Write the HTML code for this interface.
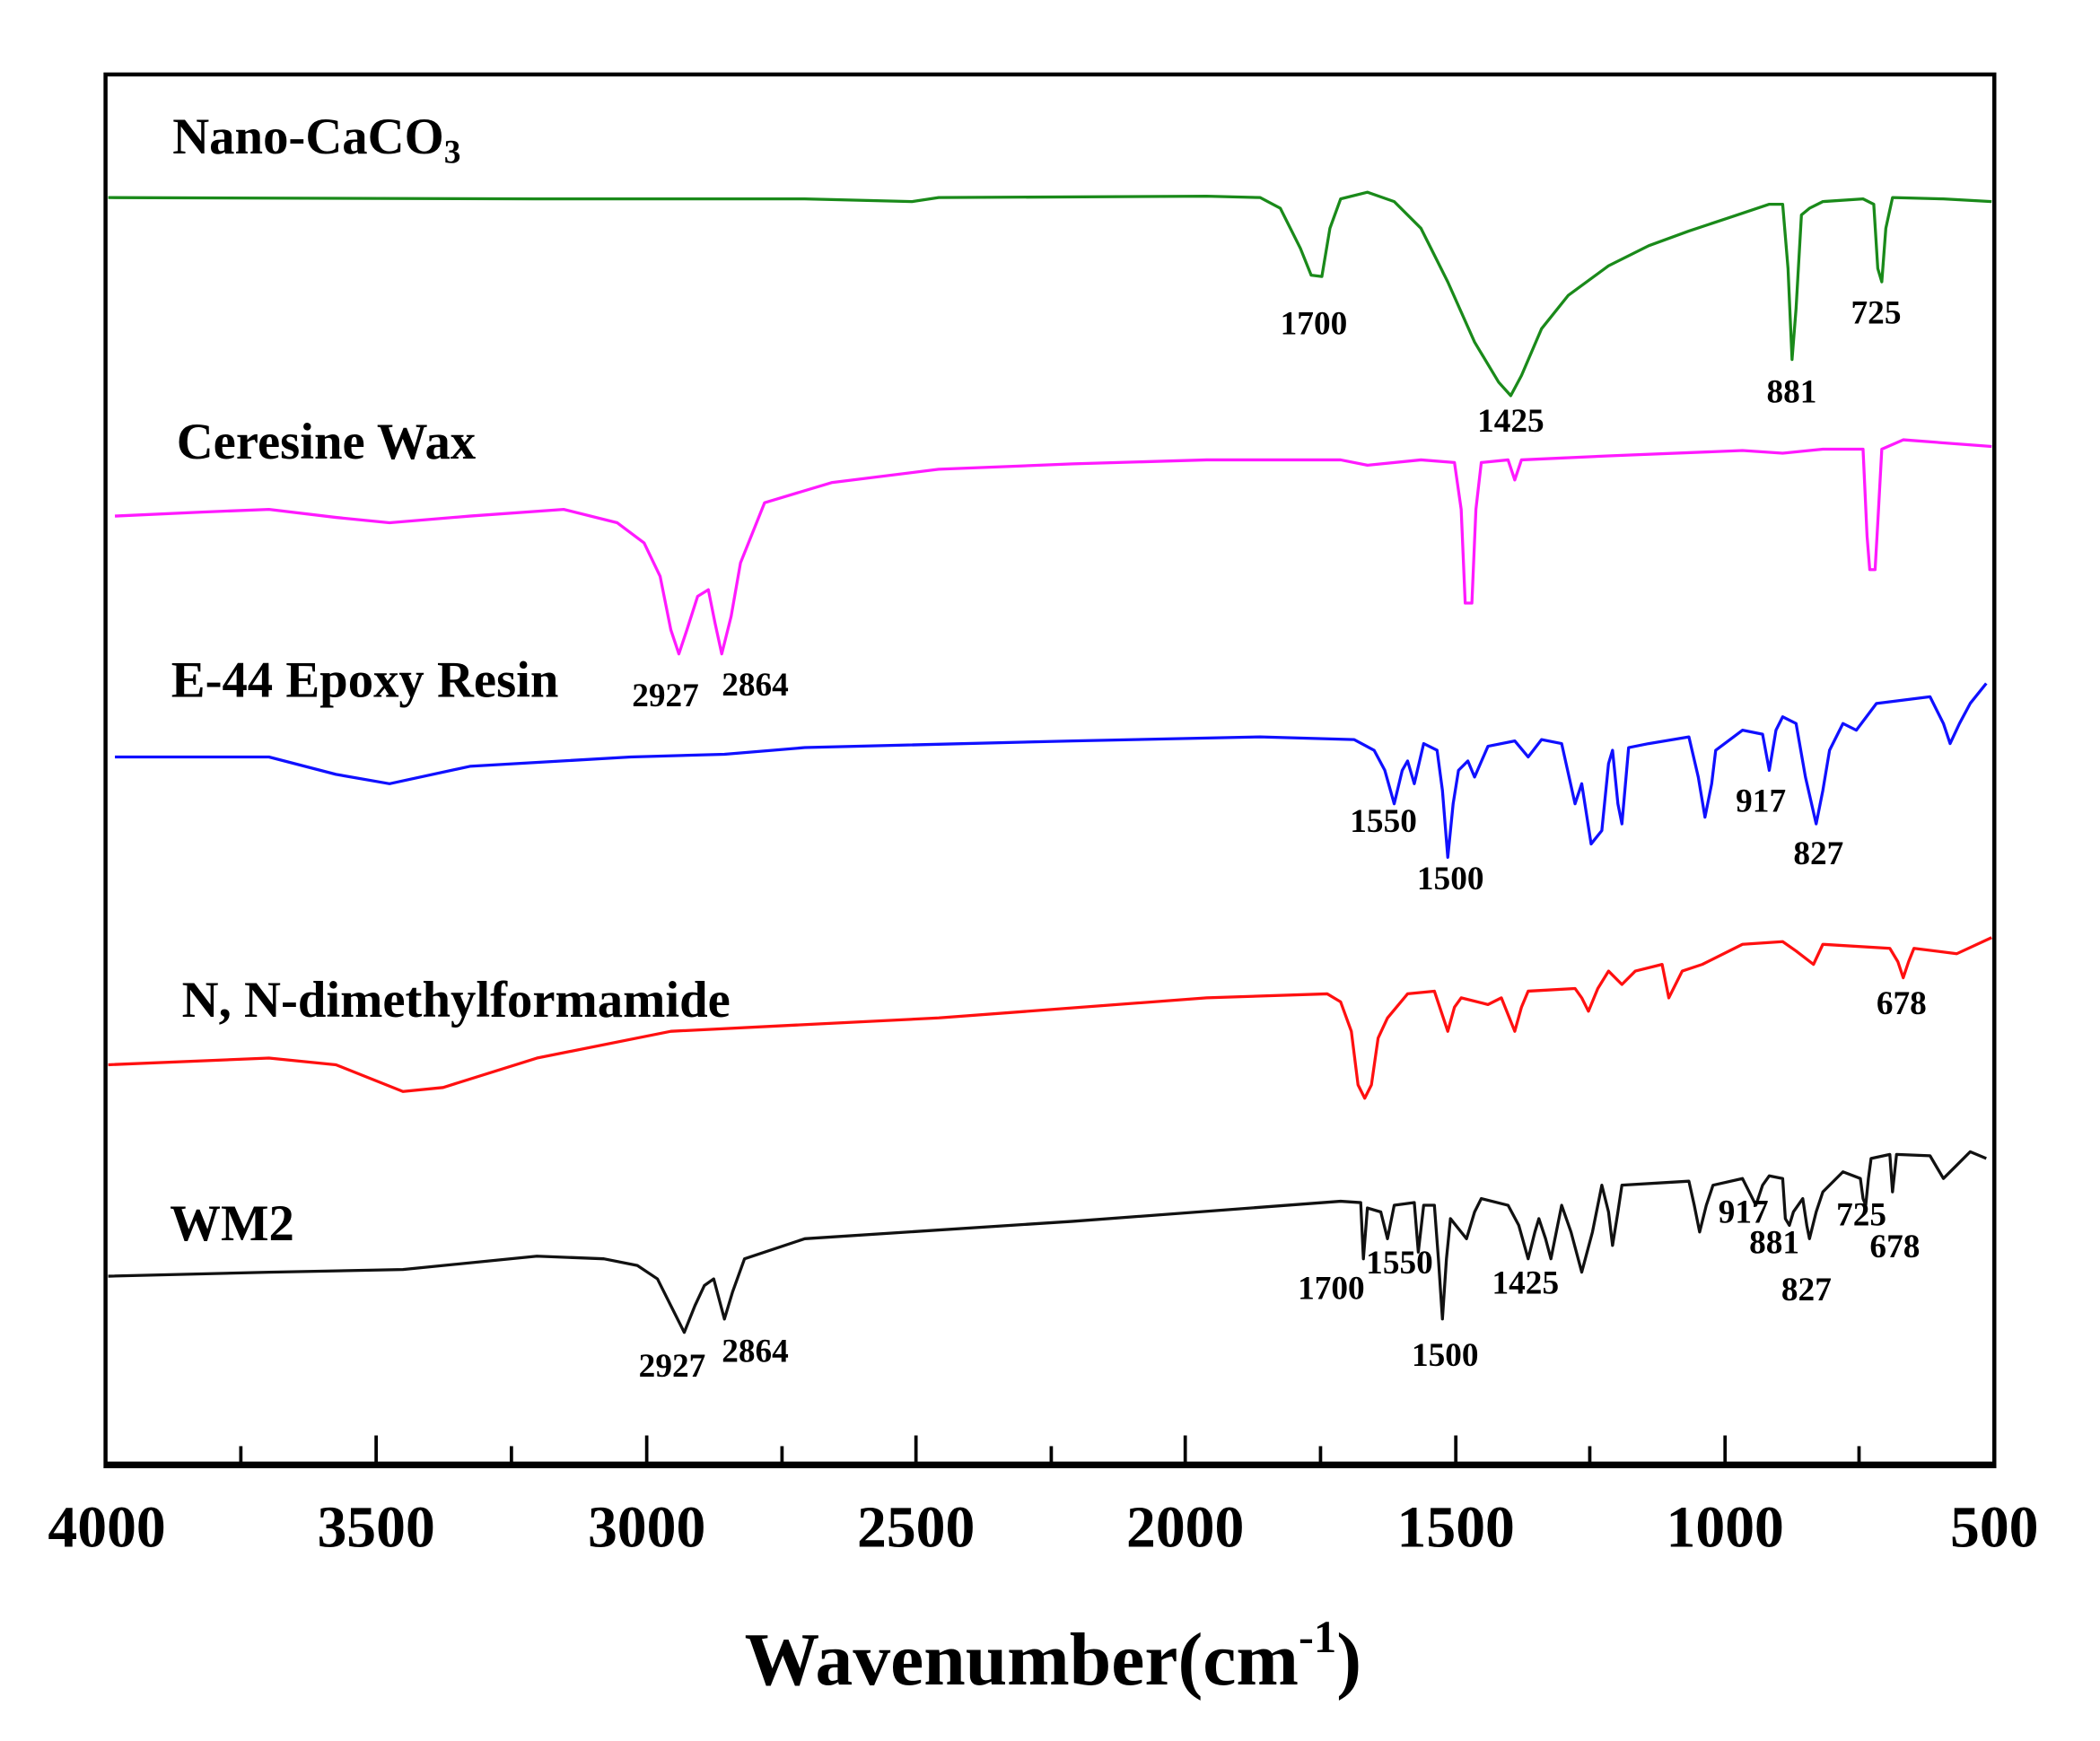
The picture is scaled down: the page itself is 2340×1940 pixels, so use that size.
<!DOCTYPE html>
<html><head><meta charset="utf-8"><style>
html,body{margin:0;padding:0;background:#fff;}
svg{display:block;}
text{font-family:"Liberation Serif",serif;font-weight:bold;fill:#000;}
.n{font-size:38px;}
.p{font-size:25px;}
.t{font-size:44px;}
</style></head><body>
<svg width="2340" height="1940" viewBox="0 0 1552 1286" preserveAspectRatio="none" xmlns="http://www.w3.org/2000/svg">
<rect x="0" y="0" width="1552" height="1286" fill="#fff"/>
<g transform="translate(78,55) scale(0.990,0.9885) translate(-78,-55)">
<rect x="78" y="55" width="1410" height="1040" fill="none" stroke="#000" stroke-width="3"/>
<line x1="77" y1="1094" x2="1489" y2="1094" stroke="#000" stroke-width="5"/>
<g stroke="#000" stroke-width="2.5">
<line x1="280" y1="1094" x2="280" y2="1072"/><line x1="482" y1="1094" x2="482" y2="1072"/>
<line x1="683" y1="1094" x2="683" y2="1072"/><line x1="884" y1="1094" x2="884" y2="1072"/>
<line x1="1086" y1="1094" x2="1086" y2="1072"/><line x1="1287" y1="1094" x2="1287" y2="1072"/>
<line x1="179" y1="1094" x2="179" y2="1080"/><line x1="381" y1="1094" x2="381" y2="1080"/>
<line x1="583" y1="1094" x2="583" y2="1080"/><line x1="784" y1="1094" x2="784" y2="1080"/>
<line x1="985" y1="1094" x2="985" y2="1080"/><line x1="1186" y1="1094" x2="1186" y2="1080"/>
<line x1="1387" y1="1094" x2="1387" y2="1080"/>
</g>
<g text-anchor="middle">
<text class="t" x="79" y="1155">4000</text><text class="t" x="280" y="1155">3500</text>
<text class="t" x="482" y="1155">3000</text><text class="t" x="683" y="1155">2500</text>
<text class="t" x="884" y="1155">2000</text><text class="t" x="1086" y="1155">1500</text>
<text class="t" x="1287" y="1155">1000</text><text class="t" x="1488" y="1155">500</text>
</g>
<text x="555" y="1258" style="font-size:56px">Wavenumber(cm<tspan dy="-24" style="font-size:34px">-1</tspan><tspan dy="24">)</tspan></text>

<g fill="none" stroke-width="2.2" stroke-linejoin="round">
<polyline stroke="#1a8a1a" points="80,147 400,148 600,148 680,150 700,147 900,146 940,147 955,155 970,185 978,205 986,206 992,170 1000,148 1020,143 1040,150 1060,170 1080,210 1100,255 1118,285 1127,295 1135,280 1150,245 1170,220 1200,198 1230,183 1260,172 1290,162 1320,152 1330,152 1334,200 1337,268 1340,230 1344,160 1350,155 1360,150 1390,148 1398,152 1401,200 1404,210 1407,170 1412,147 1450,148 1486,150"/>
<polyline stroke="#ff1aff" points="85,385 150,382 200,380 250,386 290,390 350,385 420,380 460,390 480,405 492,430 500,470 506,488 512,470 520,445 528,440 533,465 538,488 545,460 552,420 570,375 620,360 700,350 800,346 900,343 1000,343 1020,347 1060,343 1085,345 1090,380 1093,450 1098,450 1101,380 1105,345 1125,343 1130,358 1135,343 1200,340 1300,336 1330,338 1360,335 1390,335 1393,400 1395,425 1399,425 1401,390 1404,335 1420,328 1486,333"/>
<polyline stroke="#1010ff" points="85,565 200,565 250,578 290,585 350,572 470,565 540,563 600,558 800,553 940,550 1010,552 1025,560 1033,575 1040,600 1046,575 1050,568 1055,585 1062,555 1072,560 1076,590 1080,640 1084,600 1088,575 1095,568 1100,580 1110,557 1130,553 1140,565 1150,552 1165,555 1175,600 1180,585 1187,630 1195,620 1200,570 1203,560 1207,600 1210,615 1215,558 1230,555 1260,550 1267,580 1272,610 1277,585 1280,560 1300,545 1315,548 1320,575 1325,545 1330,535 1340,540 1347,580 1355,615 1360,590 1365,560 1375,540 1385,545 1400,525 1440,520 1450,540 1455,555 1462,540 1470,525 1482,510"/>
<polyline stroke="#ff1010" points="80,795 200,790 250,795 300,815 330,812 400,790 500,770 700,760 900,745 990,742 1000,748 1008,770 1013,810 1018,820 1023,810 1028,775 1035,760 1050,742 1070,740 1075,755 1080,770 1085,752 1090,745 1110,750 1120,745 1126,760 1130,770 1135,752 1140,740 1175,738 1180,745 1185,755 1192,738 1200,725 1210,735 1220,725 1240,720 1245,745 1250,735 1255,725 1270,720 1300,705 1330,703 1340,710 1353,720 1360,705 1410,708 1416,718 1420,730 1424,718 1428,708 1460,712 1486,700"/>
<polyline stroke="#111" points="80,953 200,950 300,948 400,938 450,940 475,945 490,955 500,975 510,995 518,975 525,960 532,955 536,970 540,985 546,965 555,940 600,925 800,912 1000,897 1015,898 1017,940 1020,902 1030,905 1035,925 1040,900 1055,898 1058,935 1062,900 1070,900 1073,940 1076,985 1079,940 1082,910 1090,920 1094,925 1100,905 1105,895 1125,900 1133,915 1140,940 1145,920 1148,910 1153,925 1157,940 1162,915 1165,900 1172,920 1180,950 1188,920 1195,885 1200,905 1203,930 1207,905 1210,885 1260,882 1264,900 1268,920 1273,900 1278,885 1300,880 1305,890 1310,900 1315,885 1320,878 1330,880 1332,910 1335,915 1338,905 1345,895 1348,915 1350,925 1355,905 1360,890 1375,875 1388,880 1390,895 1392,900 1394,880 1396,865 1410,862 1412,890 1415,862 1440,863 1450,880 1460,870 1470,860 1482,865"/>
</g>

<text class="n" x="128" y="114">Nano-CaCO<tspan dy="7" style="font-size:25px">3</tspan></text>
<text class="n" x="131" y="342">Ceresine Wax</text>
<text class="n" x="127" y="520">E-44 Epoxy Resin</text>
<text class="n" x="135" y="759">N, N-dimethylformamide</text>
<text class="n" x="126" y="926">WM2</text>

<g>
<text class="p" x="955" y="249">1700</text>
<text class="p" x="1102" y="322">1425</text>
<text class="p" x="1318" y="300">881</text>
<text class="p" x="1381" y="241">725</text>
<text class="p" x="471" y="527">2927</text>
<text class="p" x="538" y="519">2864</text>
<text class="p" x="1007" y="621">1550</text>
<text class="p" x="1057" y="664">1500</text>
<text class="p" x="1295" y="606">917</text>
<text class="p" x="1338" y="645">827</text>
<text class="p" x="1400" y="757">678</text>
<text class="p" x="968" y="970">1700</text>
<text class="p" x="1019" y="951">1550</text>
<text class="p" x="1113" y="966">1425</text>
<text class="p" x="1053" y="1020">1500</text>
<text class="p" x="1282" y="913">917</text>
<text class="p" x="1305" y="936">881</text>
<text class="p" x="1329" y="971">827</text>
<text class="p" x="1370" y="915">725</text>
<text class="p" x="1395" y="939">678</text>
<text class="p" x="476" y="1028">2927</text>
<text class="p" x="538" y="1017">2864</text>
</g>
</g>
</svg>
</body></html>
